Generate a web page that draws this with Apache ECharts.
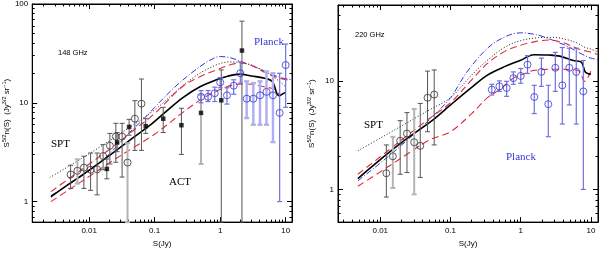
<!DOCTYPE html>
<html><head><meta charset="utf-8">
<script src="https://cdn.jsdelivr.net/npm/echarts/dist/echarts.min.js"></script>
<style>html,body{margin:0;padding:0;background:#fff}#c{width:600px;height:253px}</style>
</head><body><div id="c"></div>
<script>
// ---------- DATA: left panel (148 GHz) ----------
const L_SPT_S  = [0.0052,0.0066,0.0083,0.0105,0.0132,0.0163,0.0207,0.0255,0.0318,0.0385,0.0498,0.0628];
const L_SPT_V  = [1.88,2.05,2.21,2.1,2.12,2.89,3.68,4.55,4.55,2.48,6.9,9.8];
const L_SPT_LO = [1.36,1.52,1.36,1.3,1.17,2.1,2.4,2.5,1.77,0.62,3.3,3.3];
const L_SPT_HI = [2.33,2.68,2.88,3.1,3.1,3.77,4.9,6.2,6.2,3.9,10.5,17.4];

const L_ACT_S  = [0.0186,0.0267,0.0407,0.073,0.135,0.256,0.51,1.04,2.15];
const L_ACT_V  = [2.14,3.97,5.7,5.8,6.9,5.93,7.9,10.6,33.8];
const L_ACT_LO = [1.7,3.2,4.7,4.9,5.0,3.0,2.4,0.62,0.62];
const L_ACT_HI = [2.7,5.0,6.8,6.9,9.0,8.8,12.0,21.5,67];

const L_PL_S  = [0.51,0.653,0.826,1.0,1.27,1.61,2.03,2.54,3.21,4.06,5.1,6.4,8.1,10];
const L_PL_V  = [11.5,11.5,12.5,16.1,11.9,14.9,19.9,11,11,11.9,12.9,11.9,7.9,24.1];
const L_PL_LO = [10.0,10.3,10.3,14.2,9.7,12.2,15.8,7.0,6.0,6.0,6.0,4.0,1.0,9.0];
const L_PL_HI = [13.3,13.3,14.4,18.0,14.2,17.1,25.9,16.5,15.8,16.5,20.7,19.9,19.9,39.3];

const L_SOLID  = [[0.0026,1.12],[0.005,1.52],[0.01,2.08],[0.02,2.9],[0.04,4.1],[0.084,5.9],[0.15,8.2],[0.27,11.3],[0.5,14.6],[0.875,17.1],[1.3,18.6],[2,19.5],[3,18.7],[5,17.6],[6.3,16.3],[7.9,11.8],[10,12.8]];
const L_DOTTED = [[0.0025,1.75],[0.01,3.05],[0.033,5.1],[0.1,8.5],[0.27,14.9],[0.6,21.5],[1.4,25.9],[2.5,25],[5,20.5],[8,16.5],[10,14.5]];
const L_DASHDOT= [[0.0026,1.15],[0.005,1.5],[0.01,2.05],[0.02,3.0],[0.04,4.9],[0.07,7.0],[0.1,9.0],[0.2,14.3],[0.4,21],[0.7,27],[1,29.4],[1.5,28.3],[2.5,25],[4,22],[6,19.5],[9,17.8],[12,17.2]];
const L_RED_UP = [[0.0026,1.26],[0.005,1.72],[0.01,2.4],[0.02,3.35],[0.05,5.4],[0.1,7.8],[0.27,14.7],[0.5,18.5],[0.875,21.5],[1.5,24.5],[2,25.3],[3,24],[5,20],[8,17.8],[11,17]];
const L_RED_LO = [[0.0026,1.0],[0.005,1.33],[0.01,1.8],[0.02,2.45],[0.05,3.6],[0.1,4.8],[0.27,8.0],[0.5,10.7],[0.875,13.1],[1.5,15.0],[2.5,15.5],[5,14.4],[7,13.6],[8.2,12],[10,13.2]];

// ---------- DATA: right panel (220 GHz) ----------
const R_SPT_S  = [0.0122,0.0151,0.0192,0.024,0.0304,0.0371,0.0471,0.0586];
const R_SPT_V  = [1.41,2.02,2.81,3.27,2.72,2.52,6.99,7.48];
const R_SPT_LO = [0.85,1.03,1.38,1.43,0.9,1.29,3.4,2.57];
const R_SPT_HI = [2.57,3.05,4.3,5.1,5.5,6.2,12.3,12.6];

const R_PL_S  = [0.387,0.497,0.63,0.786,1.0,1.25,1.56,1.97,2.47,3.11,3.91,4.92,6.18,7.79];
const R_PL_V  = [8.3,8.9,8.6,10.6,11.1,14.1,7.1,12.1,6.1,13.2,9.1,13.2,12.1,8.0];
const R_PL_LO = [7.4,8.0,7.2,9.3,9.5,11.7,5.0,8.9,3.06,8.0,4.0,6.0,4.0,1.0];
const R_PL_HI = [9.3,10.0,9.9,12.1,13.0,17.1,9.1,16.2,9.1,18.3,20.3,20.0,20.0,15.4];

const R_SOLID  = [[0.0048,1.26],[0.01,1.88],[0.02,2.7],[0.057,4.4],[0.1,6.0],[0.2,8.7],[0.336,11.3],[0.6,13.6],[1,15.5],[1.54,17.4],[2.5,17.3],[3.6,16.9],[5.6,15.4],[7.3,14.9],[8.3,12.1],[10,11.5]];
const R_DOTTED = [[0.0048,2.27],[0.01,2.97],[0.02,3.84],[0.05,5.4],[0.1,7.0],[0.2,11.3],[0.336,15.5],[0.6,20.5],[1,23.5],[1.8,25.0],[2.9,25.2],[4.5,24],[6.2,22.5],[8,20.5],[10,19.6],[12.5,18.5]];
const R_DASHDOT= [[0.0048,1.2],[0.01,1.75],[0.02,2.55],[0.05,4.4],[0.1,7.0],[0.17,12],[0.336,20],[0.6,25.5],[1,27.7],[1.5,27],[2,25.8],[4.5,21],[7,18],[10,16.2],[12.5,15.8]];
const R_RED_UP = [[0.0048,1.38],[0.01,2.0],[0.02,2.85],[0.05,4.5],[0.1,6.3],[0.2,10.2],[0.336,14.5],[0.6,18.8],[1,21.3],[1.6,23.0],[2.5,23.8],[4,22.5],[6.2,20],[8,19],[10,18.4],[12.5,17.5]];
const R_RED_LO = [[0.0048,1.07],[0.01,1.45],[0.02,1.95],[0.05,2.85],[0.1,3.4],[0.2,5.0],[0.336,7.0],[0.5,8.3],[0.786,10.6],[1.2,11.8],[1.54,12.5],[2.9,12.8],[5,12.7],[6.8,12.3],[8.1,9.9],[10,12.3]];

// ---------- TICKS ----------
const X_MAJOR = [0.01, 0.1, 1, 10];
const Y_MAJOR_L = [1, 10, 100];
const Y_MAJOR_R = [1, 10];

// ---------- STYLE: which error bars are drawn light/thick (indices) ----------
const L_SPT_LIGHT = [1, 9];
const L_ACT_LIGHT = [6];
const L_PL_LIGHT  = [7, 8, 9, 10, 11];
const R_SPT_LIGHT = [1, 4];
const R_PL_LIGHT  = [];

function minors(lo, hi) {
  const out = [];
  for (let e = -4; e <= 2; e++) for (let m = 2; m <= 9; m++) {
    const v = +(m * Math.pow(10, e)).toPrecision(3);
    if (v > lo && v < hi) out.push(v);
  }
  return out;
}
const fmt = v => String(+(+v).toPrecision(3));
const FONT = 'Liberation Sans';

function axesSet(dim, g, min, max, majors, name, nameGap) {
  const posA = dim === 'x' ? 'bottom' : 'left';
  const posB = dim === 'x' ? 'top' : 'right';
  const base = { type: 'log', logBase: 10, gridIndex: g, min: min, max: max, splitLine: { show: false }, splitArea: { show: false } };
  const mn = minors(min, max);
  const line = { show: true, onZero: false, lineStyle: { color: '#000', width: 1 } };
  const main = Object.assign({}, base, {
    position: posA, axisLine: line,
    axisTick: { show: true, inside: true, length: 5, customValues: majors, lineStyle: { color: '#000' } },
    axisLabel: { show: true, customValues: majors, formatter: fmt, fontSize: 8, color: '#000', fontFamily: FONT, margin: dim === 'x' ? 5 : 4 },
    name: name, nameLocation: 'middle', nameGap: nameGap,
    nameTextStyle: dim === 'x' ? { fontSize: 8, color: '#000', fontFamily: FONT } : {
      color: '#000', fontFamily: FONT,
      rich: {
        a: { fontSize: 8, lineHeight: 12, color: '#000', fontFamily: FONT },
        s: { fontSize: 5.5, lineHeight: 7, verticalAlign: 'top', color: '#000', fontFamily: FONT }
      }
    },
    nameRotate: dim === 'y' ? 90 : 0
  });
  const minorA = Object.assign({}, base, {
    position: posA, axisLine: { show: false },
    axisTick: { show: true, inside: true, length: 2.5, customValues: mn, lineStyle: { color: '#000' } },
    axisLabel: { show: false }
  });
  const majB = Object.assign({}, base, {
    position: posB, axisLine: line,
    axisTick: { show: true, inside: true, length: 5, customValues: majors, lineStyle: { color: '#000' } },
    axisLabel: { show: false }
  });
  const minorB = Object.assign({}, base, {
    position: posB, axisLine: { show: false },
    axisTick: { show: true, inside: true, length: 2.5, customValues: mn, lineStyle: { color: '#000' } },
    axisLabel: { show: false }
  });
  return [main, minorA, majB, minorB];
}

const YNAME = '{a|S}{s|5/2}{a|n(S)  (Jy}{s|3/2}{a| sr}{s|−1}{a|)}';

const xAxes = [].concat(
  axesSet('x', 0, 0.00135, 12.5, X_MAJOR, 'S(Jy)', 15),
  axesSet('x', 1, 0.0025, 12.6, X_MAJOR, 'S(Jy)', 15)
);
const yAxes = [].concat(
  axesSet('y', 0, 0.62, 100, Y_MAJOR_L, YNAME, 19),
  axesSet('y', 1, 0.5, 50, Y_MAJOR_R, YNAME, 20)
);

function lineSeries(ai, data, color, width, type) {
  return { type: 'line', xAxisIndex: ai, yAxisIndex: ai, data: data, showSymbol: false, smooth: 0.35,
    lineStyle: { color: color, width: width, type: type }, z: 2, silent: true, animation: false };
}
function errSeries(ai, S, V, LO, HI, color, width, lightIdx, lightColor, lightWidth) {
  return {
    type: 'custom', xAxisIndex: ai, yAxisIndex: ai, z: 3, silent: true, animation: false,
    data: S.map((s, i) => [s, V[i], LO[i], HI[i], lightIdx.indexOf(i) >= 0 ? 1 : 0]),
    encode: { x: 0, y: [1, 2, 3] },
    renderItem: function (params, api) {
      const x = api.value(0);
      const light = api.value(4) === 1;
      const top = api.coord([x, api.value(3)]);
      const bot = api.coord([x, api.value(2)]);
      const st = { stroke: light ? lightColor : color, lineWidth: light ? lightWidth : width };
      const cw = 2.5;
      return { type: 'group', children: [
        { type: 'line', shape: { x1: top[0], y1: top[1], x2: bot[0], y2: bot[1] }, style: st },
        { type: 'line', shape: { x1: top[0] - cw, y1: top[1], x2: top[0] + cw, y2: top[1] }, style: st },
        { type: 'line', shape: { x1: bot[0] - cw, y1: bot[1], x2: bot[0] + cw, y2: bot[1] }, style: st }
      ]};
    }
  };
}
function ptSeries(ai, S, V, symbol, size, color, filled) {
  return { type: 'scatter', xAxisIndex: ai, yAxisIndex: ai, z: 4, silent: true, animation: false,
    data: S.map((s, i) => [s, V[i]]), symbol: symbol, symbolSize: size,
    itemStyle: filled ? { color: color } : { color: 'rgba(0,0,0,0)', borderColor: color, borderWidth: 1 } };
}

const RED = '#e2283a', BLUE = '#3535d8', GREY = '#555555', LGREY = '#b4b4b4', PBAR = '#7272de', LPBAR = '#aeaef0';
const DASH = [7, 4], DASHDOT = [6, 2, 1, 2], DOT = [1, 2];

const series = [
  // left
  lineSeries(0, L_DOTTED, '#000', 0.9, DOT),
  lineSeries(0, L_DASHDOT, BLUE, 1, DASHDOT),
  lineSeries(0, L_RED_UP, RED, 1.1, DASH),
  lineSeries(0, L_RED_LO, RED, 1.1, DASH),
  lineSeries(0, L_SOLID, '#000', 1.6, 'solid'),
  errSeries(0, L_SPT_S, L_SPT_V, L_SPT_LO, L_SPT_HI, GREY, 1, L_SPT_LIGHT, LGREY, 2),
  errSeries(0, L_ACT_S, L_ACT_V, L_ACT_LO, L_ACT_HI, GREY, 1, L_ACT_LIGHT, LGREY, 2),
  errSeries(0, L_PL_S, L_PL_V, L_PL_LO, L_PL_HI, PBAR, 1.2, L_PL_LIGHT, LPBAR, 2.4),
  ptSeries(0, L_SPT_S, L_SPT_V, 'circle', 7, '#333', false),
  ptSeries(0, L_ACT_S, L_ACT_V, 'rect', 4.5, '#000', true),
  ptSeries(0, L_PL_S, L_PL_V, 'circle', 7, BLUE, false),
  // right
  lineSeries(4, R_DOTTED, '#000', 0.9, DOT),
  lineSeries(4, R_DASHDOT, BLUE, 1, DASHDOT),
  lineSeries(4, R_RED_UP, RED, 1.1, DASH),
  lineSeries(4, R_RED_LO, RED, 1.1, DASH),
  lineSeries(4, R_SOLID, '#000', 1.6, 'solid'),
  errSeries(4, R_SPT_S, R_SPT_V, R_SPT_LO, R_SPT_HI, GREY, 1, R_SPT_LIGHT, LGREY, 2),
  errSeries(4, R_PL_S, R_PL_V, R_PL_LO, R_PL_HI, PBAR, 1.2, R_PL_LIGHT, LPBAR, 2.4),
  ptSeries(4, R_SPT_S, R_SPT_V, 'circle', 7, '#333', false),
  ptSeries(4, R_PL_S, R_PL_V, 'circle', 7, BLUE, false)
];

function txt(x, y, text, size, family, color) {
  return { type: 'text', x: x, y: y, silent: true, z: 10,
    style: { text: text, font: size + 'px "' + family + '"', fill: color, textVerticalAlign: 'middle', textAlign: 'left' } };
}

const chart = echarts.init(document.getElementById('c'), null, { renderer: 'canvas' });
chart.setOption({
  animation: false,
  backgroundColor: '#fff',
  grid: [
    { left: 32, top: 3, width: 260, height: 225, show: true, borderColor: '#000', borderWidth: 1, backgroundColor: 'rgba(0,0,0,0)' },
    { left: 338, top: 5, width: 260, height: 223, show: true, borderColor: '#000', borderWidth: 1, backgroundColor: 'rgba(0,0,0,0)' }
  ],
  xAxis: xAxes,
  yAxis: yAxes,
  series: series,
  graphic: [
    txt(58, 53, '148 GHz', 7.5, FONT, '#000'),
    txt(51, 144, 'SPT', 11, 'Liberation Serif', '#000'),
    txt(169, 182, 'ACT', 11, 'Liberation Serif', '#000'),
    txt(254, 42, 'Planck', 11, 'Liberation Serif', BLUE),
    txt(355, 35, '220 GHz', 7.5, FONT, '#000'),
    txt(364, 125, 'SPT', 11, 'Liberation Serif', '#000'),
    txt(506, 157, 'Planck', 11, 'Liberation Serif', BLUE)
  ]
});
</script></body></html>
